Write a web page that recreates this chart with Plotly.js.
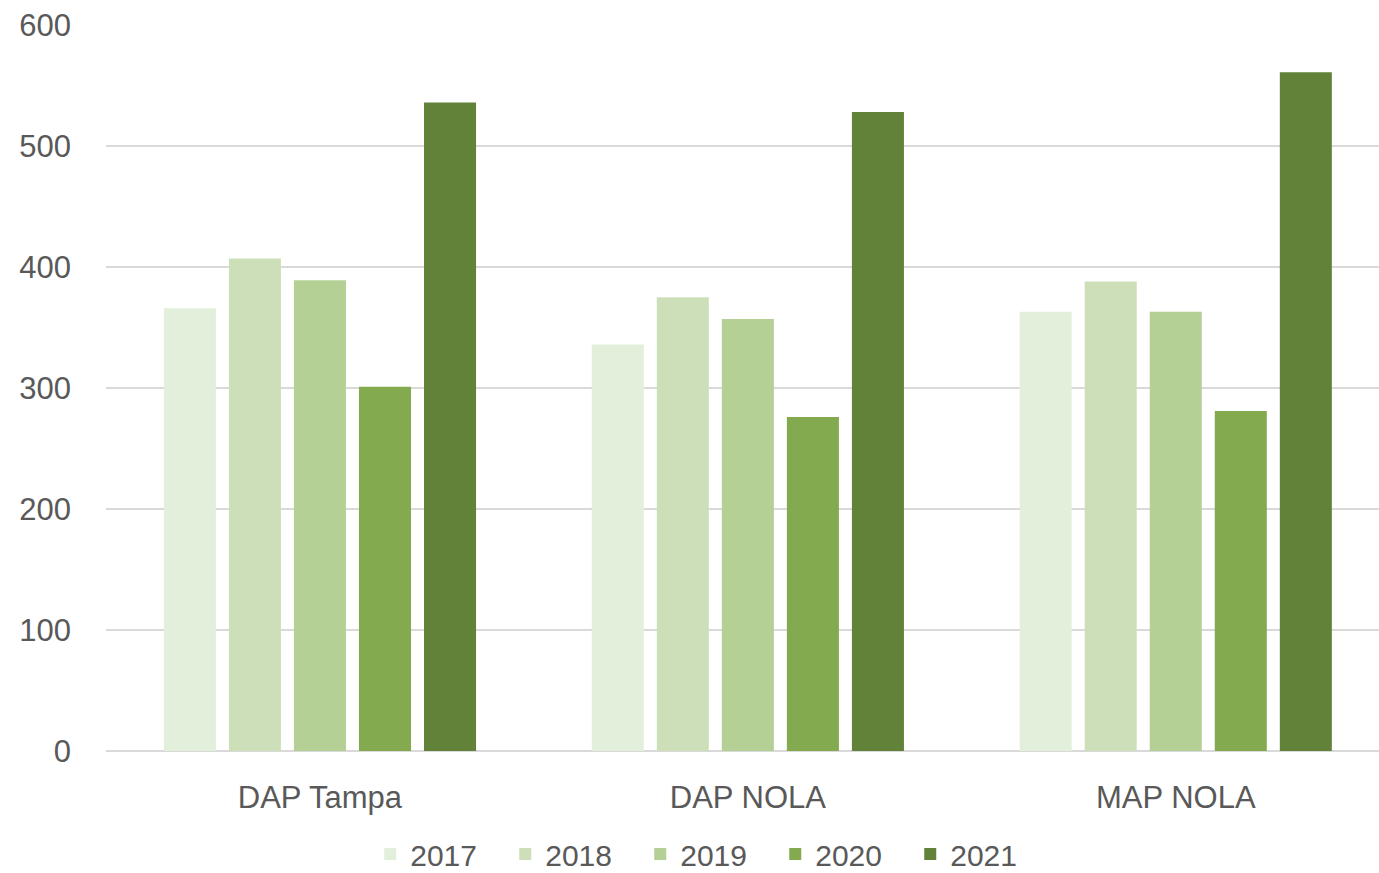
<!DOCTYPE html>
<html>
<head>
<meta charset="utf-8">
<script src="https://cdn.plot.ly/plotly-3.0.1.min.js"></script>
<style>html,body{margin:0;padding:0;background:#fff;overflow:hidden}#chart{width:1379px;height:873px}</style>
</head>
<body>
<div id="chart"></div>
<script>
const categories = ["DAP Tampa", "DAP NOLA", "MAP NOLA"];
const years = ["2017", "2018", "2019", "2020", "2021"];
const values2017 = [366, 336, 363];
const values2018 = [407, 375, 388];
const values2019 = [389, 357, 363];
const values2020 = [301, 276, 281];
const values2021 = [536, 528, 561];
const colors = ["#e2efda", "#cddfb8", "#b5d094", "#83aa4e", "#62823a"];
const tickVals = [0, 100, 200, 300, 400, 500, 600];

const series = [values2017, values2018, values2019, values2020, values2021];
const font = {family: "Liberation Sans, Arial, sans-serif", size: 31, color: "#595959"};
const legendFont = {family: "Liberation Sans, Arial, sans-serif", size: 30, color: "#595959"};

const traces = series.map((vals, i) => ({
  type: "bar",
  name: years[i],
  x: categories,
  y: vals,
  marker: {color: colors[i], line: {width: 0}},
  hoverinfo: "x+y+name"
}));

const layout = {
  width: 1379,
  height: 873,
  margin: {l: 106, r: 0, t: 25, b: 122, autoexpand: false},
  paper_bgcolor: "#ffffff",
  plot_bgcolor: "#ffffff",
  font: font,
  barmode: "group",
  bargap: 0.24,
  bargroupgap: 0.2,
  showlegend: true,
  legend: {
    orientation: "h",
    x: 0.4727, xanchor: "center",
    y: -0.142, yanchor: "middle",
    font: legendFont,
    entrywidth: 90, entrywidthmode: "pixels",
    traceorder: "normal"
  },
  xaxis: {
    type: "category",
    range: [-0.5, 2.475],
    showgrid: false,
    showline: false,
    zeroline: false,
    ticks: "",
    tickfont: font,
    ticklabelstandoff: 25,
    fixedrange: true
  },
  yaxis: {
    range: [0, 600],
    tickvals: tickVals,
    ticktext: tickVals.map(String),
    showgrid: true,
    gridcolor: "#d9d9d9",
    gridwidth: 2,
    zeroline: true,
    zerolinecolor: "#d9d9d9",
    zerolinewidth: 2,
    showline: false,
    ticks: "",
    tickfont: font,
    ticklabelstandoff: 34,
    fixedrange: true
  }
};

Plotly.newPlot("chart", traces, layout, {displayModeBar: false, staticPlot: true});
</script>
</body>
</html>
